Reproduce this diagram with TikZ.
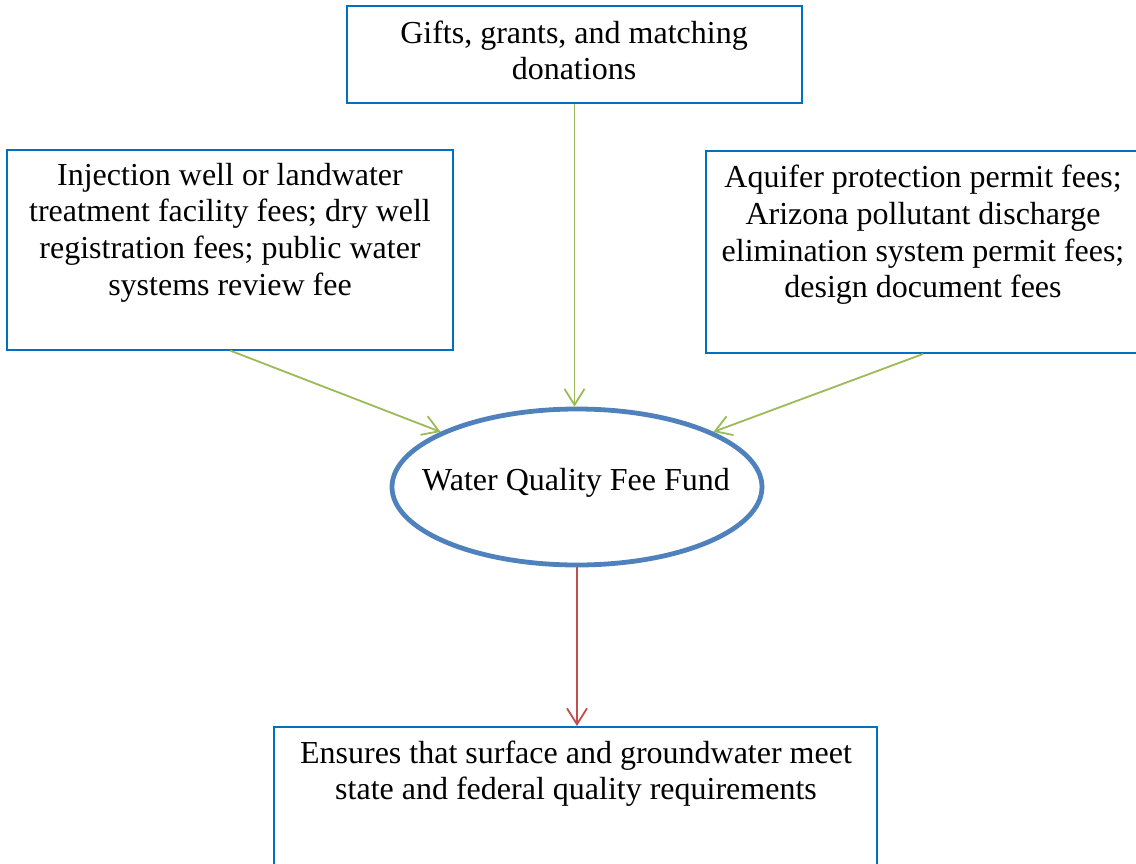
\documentclass[tikz,border=0pt]{standalone}
\usepackage{fontspec}
\setmainfont{Liberation Serif}
\usetikzlibrary{arrows.meta,shapes.geometric}
\definecolor{boxblue}{HTML}{0070C0}
\definecolor{ellblue}{HTML}{4F81BD}
\definecolor{arrgreen}{HTML}{9BBB59}
\definecolor{arrred}{HTML}{C0504D}
\tikzset{
  srcbox/.style={draw=boxblue, line width=2pt, rectangle, inner sep=0pt},
  boxtext/.style={anchor=north, inner sep=0pt, align=center,
    font=\fontsize{32}{36.6}\selectfont},
  fundell/.style={draw=ellblue, line width=4.8pt, ellipse, inner sep=0pt,
    minimum width=370pt, minimum height=156pt},
  flowin/.style={draw=arrgreen, line width=1.8pt,
    -{Straight Barb[length=16pt,width=20pt]}},
  flowout/.style={draw=arrred, line width=1.8pt,
    -{Straight Barb[length=16pt,width=20pt]}}
}
\begin{document}
\begin{tikzpicture}[x=1pt,y=-1pt]
\useasboundingbox (0,0) rectangle (1136,863);
% boxes
\node[srcbox, minimum width=455pt, minimum height=97pt] (topbox) at (574.5,54) {};
\node[srcbox, minimum width=446pt, minimum height=199.5pt] (lbox) at (230,249.75) {};
\node[srcbox, minimum width=434pt, minimum height=202pt] (rbox) at (923,252) {};
\node[srcbox, minimum width=603pt, minimum height=144pt] (bbox) at (575.5,799) {};
\node[fundell] (fund) at (577,487) {};
% texts
\node[boxtext] (toptext) at (574,17.5) {\strut Gifts, grants, and matching\\donations};
\node[boxtext] (ltext) at (230,159.5) {\strut Injection well or landwater\\treatment facility fees; dry well\\registration fees; public water\\systems review fee};
\node[boxtext] (rtext) at (923,162) {\strut Aquifer protection permit fees;\\Arizona pollutant discharge\\elimination system permit fees;\\design document fees};
\node[anchor=base, inner sep=0pt, font=\fontsize{32}{36.6}\selectfont] (fundtext) at (576,490) {Water Quality Fee Fund};
\node[boxtext] (btext) at (576,737.2) {\strut Ensures that surface and groundwater meet\\state and federal quality requirements};
% connectors
\draw[flowin] (topbox.south) -- (topbox.south |- fund.north);
\draw[flowin] (lbox.south) -- (fund.158);
\draw[flowin] (rbox.south) -- (fund.22);
\draw[flowout] (fund.south) -- (fund.south |- bbox.north);
\end{tikzpicture}
\end{document}
